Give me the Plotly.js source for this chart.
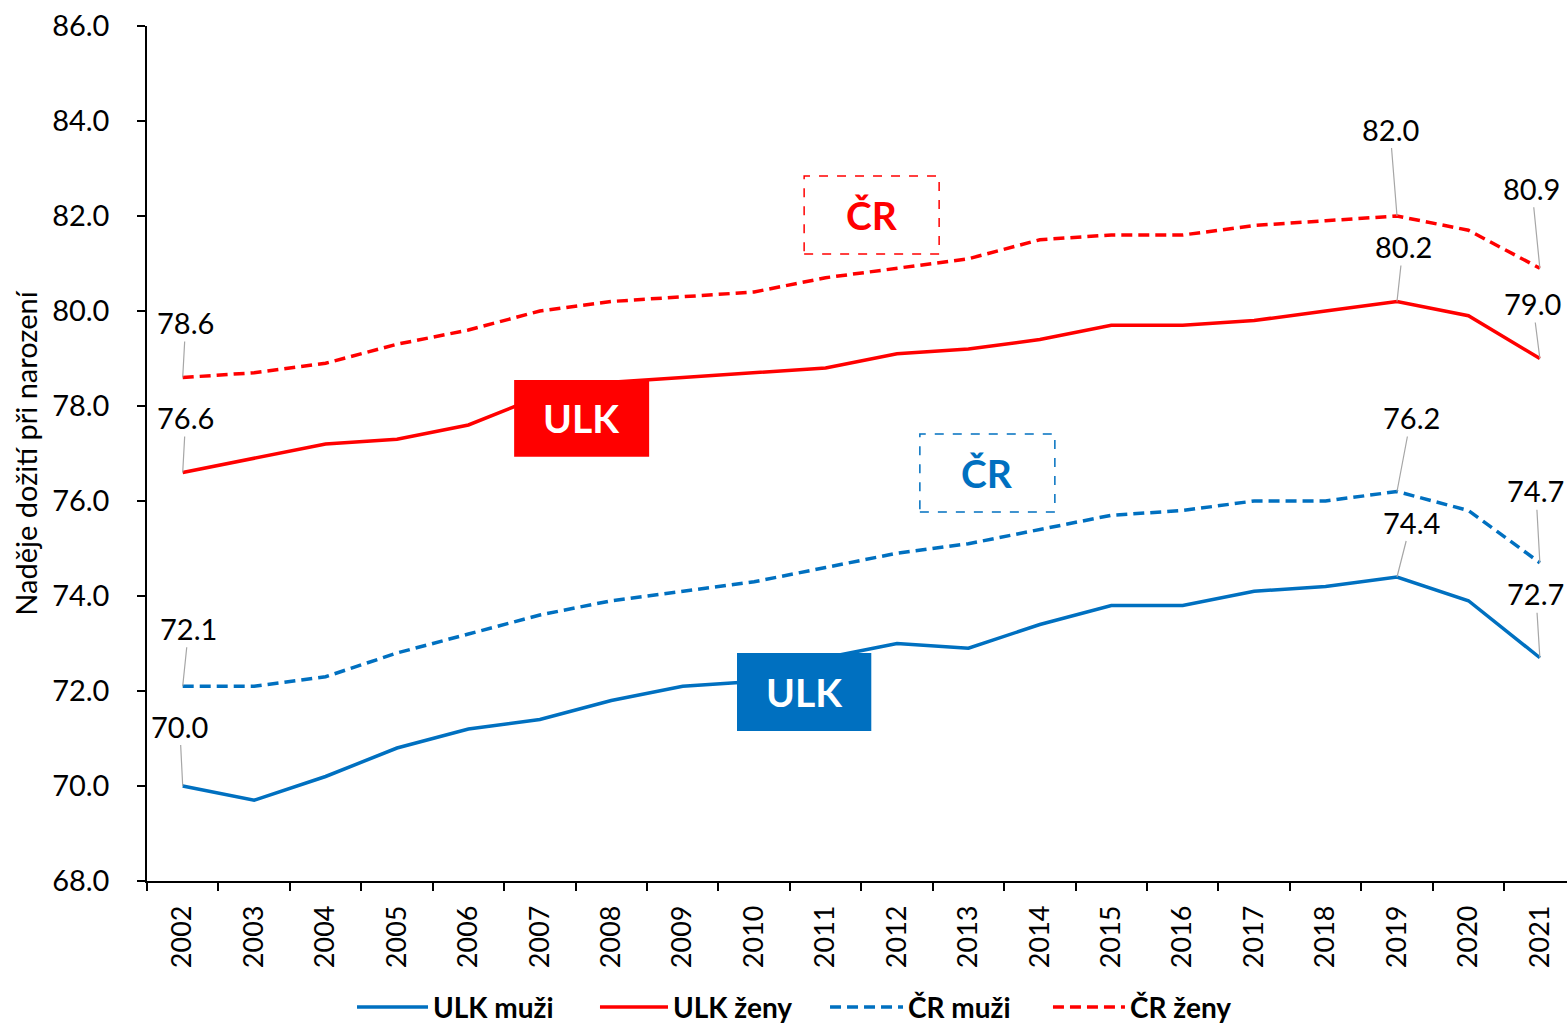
<!DOCTYPE html>
<html>
<head>
<meta charset="utf-8">
<script src="https://cdn.plot.ly/plotly-3.0.1.min.js"></script>
<style>
  html, body { margin: 0; padding: 0; background: #fff; }
  #plot { width: 1567px; height: 1025px; }
</style>
</head>
<body>
<div id="plot"></div>
<script>
// years on the x axis
let years = ["2002", "2003", "2004", "2005", "2006", "2007", "2008", "2009", "2010", "2011",
  "2012", "2013", "2014", "2015", "2016", "2017", "2018", "2019", "2020", "2021"];

// life expectancy at birth
let ulkMuzi = [70.0, 69.7, 70.2, 70.8, 71.2, 71.4, 71.8, 72.1, 72.2, 72.7,
  73.0, 72.9, 73.4, 73.8, 73.8, 74.1, 74.2, 74.4, 73.9, 72.7];
let ulkZeny = [76.6, 76.9, 77.2, 77.3, 77.6, 78.2, 78.5, 78.6, 78.7, 78.8,
  79.1, 79.2, 79.4, 79.7, 79.7, 79.8, 80.0, 80.2, 79.9, 79.0];
let crMuzi = [72.1, 72.1, 72.3, 72.8, 73.2, 73.6, 73.9, 74.1, 74.3, 74.6,
  74.9, 75.1, 75.4, 75.7, 75.8, 76.0, 76.0, 76.2, 75.8, 74.7];
let crZeny = [78.6, 78.7, 78.9, 79.3, 79.6, 80.0, 80.2, 80.3, 80.4, 80.7,
  80.9, 81.1, 81.5, 81.6, 81.6, 81.8, 81.9, 82.0, 81.7, 80.9];

let blue = "#0070C0";
let red = "#FF0000";
let font = "Lato, 'Open Sans', sans-serif";
let dashed = "11px,6px";

let traceUlkM = { x: years, y: ulkMuzi, type: "scatter", mode: "lines", name: "ULK muži",
  line: { color: blue, width: 3.5 } };
let traceUlkZ = { x: years, y: ulkZeny, type: "scatter", mode: "lines", name: "ULK ženy",
  line: { color: red, width: 3.5 } };
let traceCrM = { x: years, y: crMuzi, type: "scatter", mode: "lines", name: "ČR muži",
  line: { color: blue, width: 3.5, dash: dashed } };
let traceCrZ = { x: years, y: crZeny, type: "scatter", mode: "lines", name: "ČR ženy",
  line: { color: red, width: 3.5, dash: dashed } };
let traces = [traceUlkM, traceUlkZ, traceCrM, traceCrZ];

// data labels with gray leader lines (first, 2019 and last year)
// [series, index, ax, ay]
let labelSpots = [
  [crZeny, 0, 3, -55], [ulkZeny, 0, 3, -55], [crMuzi, 0, 6, -58], [ulkMuzi, 0, -3, -60],
  [crZeny, 17, -7, -87], [ulkZeny, 17, 6, -55], [crMuzi, 17, 14, -74], [ulkMuzi, 17, 14, -55],
  [crZeny, 19, -8, -80], [ulkZeny, 19, -7, -55], [crMuzi, 19, -4, -72], [ulkMuzi, 19, -4, -64]
];
let annotations = labelSpots.map(function (s) {
  let v = s[0][s[1]];
  return {
    x: s[1], y: v, xref: "x", yref: "y",
    text: v.toFixed(1), showarrow: true, arrowhead: 0, arrowwidth: 1.2,
    arrowcolor: "#A6A6A6", ax: s[2], ay: s[3], standoff: 0,
    font: { family: font, size: 29, color: "#000" }
  };
});

// series tags (boxes)
let tags = [
  { x0: 4.64, x1: 6.53, y0: 76.93, y1: 78.55, text: "ULK", color: red, filled: true },
  { x0: 7.76, x1: 9.64, y0: 71.16, y1: 72.8, text: "ULK", color: blue, filled: true },
  { x0: 8.70, x1: 10.59, y0: 81.2, y1: 82.84, text: "ČR", color: red, filled: false },
  { x0: 10.32, x1: 12.21, y0: 75.77, y1: 77.41, text: "ČR", color: blue, filled: false }
];
let shapes = [];
tags.forEach(function (t) {
  shapes.push({
    type: "rect", xref: "x", yref: "y", x0: t.x0, x1: t.x1, y0: t.y0, y1: t.y1,
    fillcolor: t.filled ? t.color : "#fff",
    line: { color: t.color, width: t.filled ? 0 : 1.5, dash: t.filled ? "solid" : "dash" },
    layer: "above"
  });
  annotations.push({
    x: (t.x0 + t.x1) / 2, y: (t.y0 + t.y1) / 2, xref: "x", yref: "y",
    text: "<b>" + t.text + "</b>", showarrow: false,
    font: { family: font, size: 39, color: t.filled ? "#fff" : t.color }
  });
});

// legend drawn by hand so the sample lines can be long, like in the original
let legendY = -0.1474;
let legendSpots = [[0.1479, 0.1979], [0.3190, 0.3669], [0.4810, 0.5324], [0.6380, 0.6887]];
traces.forEach(function (tr, i) {
  let p = legendSpots[i];
  shapes.push({
    type: "line", xref: "paper", yref: "paper", x0: p[0], x1: p[1], y0: legendY, y1: legendY,
    line: { color: tr.line.color, width: 3.5, dash: tr.line.dash || "solid" }
  });
  annotations.push({
    x: p[1] + 0.003, y: legendY, xref: "paper", yref: "paper", xanchor: "left", yanchor: "middle",
    text: "<b>" + tr.name + "</b>", showarrow: false, borderpad: 0,
    font: { family: font, size: 28, color: "#000" }
  });
});

let layout = {
  width: 1567,
  height: 1025,
  margin: { l: 147, r: 0, t: 26, b: 144 },
  paper_bgcolor: "#fff",
  plot_bgcolor: "#fff",
  font: { family: font, color: "#000" },
  showlegend: false,
  xaxis: {
    type: "category",
    range: [-0.5, 19.38],
    automargin: false,
    showgrid: false, zeroline: false,
    showline: true, linecolor: "#000", linewidth: 1.5,
    ticks: "outside", tickson: "boundaries", ticklen: 8, tickcolor: "#000", tickwidth: 1.5,
    tickangle: -90, ticklabelstandoff: 12,
    tickfont: { family: font, size: 27, color: "#000" }
  },
  yaxis: {
    range: [68, 86],
    dtick: 2, tickformat: ".1f",
    automargin: false,
    showgrid: false, zeroline: false,
    showline: true, linecolor: "#000", linewidth: 1.5,
    ticks: "outside", ticklen: 8, tickcolor: "#000", tickwidth: 1.5,
    ticklabelstandoff: 22,
    tickfont: { family: font, size: 29, color: "#000" },
    title: { text: "Naděje dožití při narození", standoff: 6,
      font: { family: font, size: 29, color: "#000" } }
  },
  shapes: shapes,
  annotations: annotations
};

Plotly.newPlot("plot", traces, layout, { displayModeBar: false });
</script>
</body>
</html>
